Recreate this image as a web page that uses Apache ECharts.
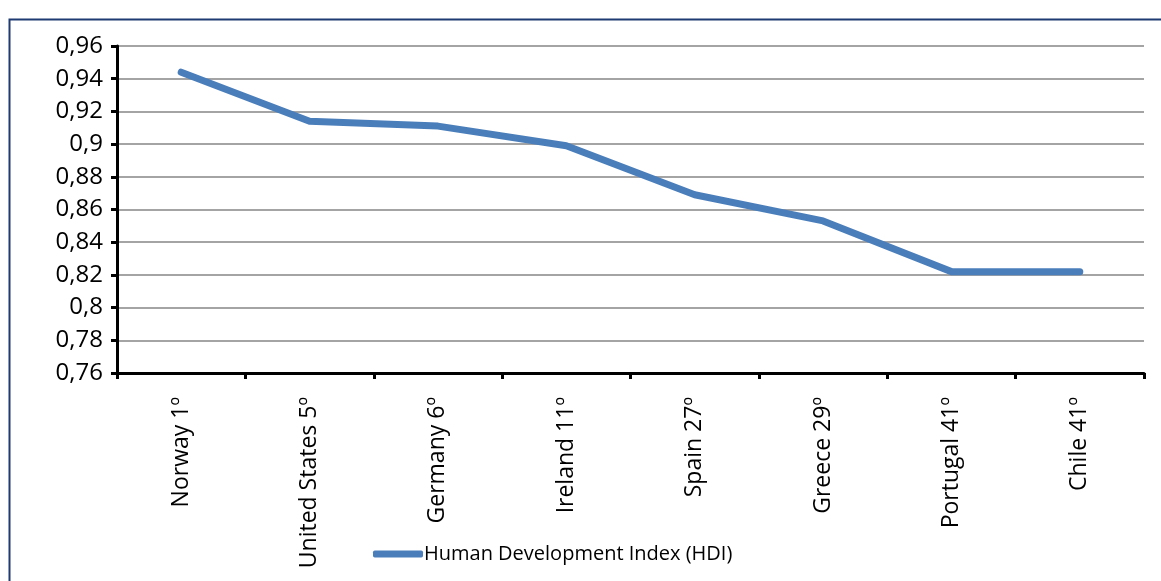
<!DOCTYPE html>
<html>
<head>
<meta charset="utf-8">
<script src="https://cdn.jsdelivr.net/npm/echarts@6/dist/echarts.min.js"></script>
<style>
html,body{margin:0;padding:0;background:#fff;}
#chart{width:1161px;height:581px;}
</style>
</head>
<body>
<div id="chart"></div>
<script>
const categories = ["Norway 1º","United States 5º","Germany 6º","Ireland 11º","Spain 27º","Greece 29º","Portugal 41º","Chile 41º"];
const hdiValues = [0.944, 0.914, 0.911, 0.899, 0.869, 0.853, 0.822, 0.822];
const seriesName = "Human Development Index (HDI)";
const yMin = 0.76, yMax = 0.96, yStep = 0.02;

const chart = echarts.init(document.getElementById('chart'), null, {renderer:'canvas'});
const FONT = '"Open Sans", sans-serif';
chart.setOption({
  animation:false,
  backgroundColor:'#ffffff',
  graphic:[{
    type:'rect', left:7, top:17, z:-1,
    shape:{x:0,y:0,width:1200,height:620},
    style:{fill:'none', stroke:'#1f3b73', lineWidth:2}
  }],
  grid:{left:117, right:17, top:46, bottom:208, containLabel:false},
  legend:{
    data:[{name:seriesName, icon:'roundRect'}],
    left:368, top:539,
    itemWidth:50, itemHeight:7, itemGap:0,
    textStyle:{fontFamily:FONT, fontSize:20, color:'#000', padding:[0,0,0,-4]}
  },
  xAxis:{
    type:'category', data:categories, boundaryGap:true,
    axisLine:{lineStyle:{color:'#000', width:3}},
    axisTick:{show:true, alignWithLabel:false, length:6, lineStyle:{color:'#000', width:3}},
    axisLabel:{rotate:90, margin:24, fontFamily:FONT, fontSize:23, color:'#000', interval:0},
    splitLine:{show:false}
  },
  yAxis:{
    type:'value', min:yMin, max:yMax, interval:yStep,
    axisLine:{show:true, lineStyle:{color:'#000', width:3}},
    axisTick:{show:true, length:6, lineStyle:{color:'#000', width:3}},
    axisLabel:{margin:14, fontFamily:FONT, fontSize:24, color:'#000',
      formatter:v=>parseFloat(v.toFixed(2)).toString().replace('.',',')},
    splitLine:{show:true, lineStyle:{color:'#868686', width:1.5}}
  },
  series:[{
    name:seriesName, type:'line', data:hdiValues,
    symbol:'none', showSymbol:false,
    lineStyle:{color:'#4a7ebb', width:7, cap:'round', join:'round'},
    itemStyle:{color:'#4a7ebb'}
  }]
});
</script>
</body>
</html>
